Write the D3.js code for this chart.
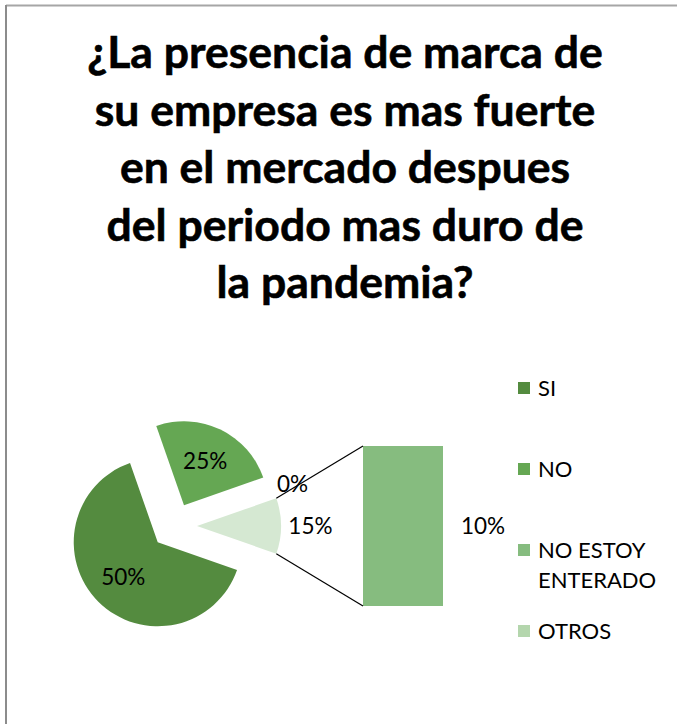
<!DOCTYPE html>
<html>
<head>
<meta charset="utf-8">
<script src="https://cdn.jsdelivr.net/npm/d3@7"></script>
<style>
  body { margin: 0; background: #fff; }
  text { font-family: Lato, "Open Sans", sans-serif; }
</style>
</head>
<body>
<div id="chart"></div>
<script>
// title lines
var titleLines = ["¿La presencia de marca de", "su empresa es mas fuerte", "en el mercado despues", "del periodo mas duro de", "la pandemia?"];

// legend
var categories = ["SI", "NO", "NO ESTOY ENTERADO", "OTROS"];
var legendColors = ["#548b3f", "#65a753", "#86bc7f", "#b4d6ad"];

// pie slices, clockwise starting from the NO slice (shares)
var pieShares = [25, 0, 10.7, 64.3];
var pieLabels = ["25%", "0%", "15%", "50%"];
var pieColors = ["#65a753", "#ffffff", "#d5e8d2", "#548b3f"];
var otherIndex = 2; // slice linked to the bar

// bar of the "other" part
var barValues = [10];
var barLabels = ["10%"];
var barColors = ["#86bc7f"];

var W = 677, H = 724;
var svg = d3.select("#chart").append("svg")
  .attr("width", W).attr("height", H);

// frame
svg.append("line").attr("x1", 6).attr("y1", 5.5).attr("x2", W).attr("y2", 5.5)
  .style("stroke", "#a6a6a6").style("stroke-width", 2);
svg.append("line").attr("x1", 6).attr("y1", 5).attr("x2", 6).attr("y2", H)
  .style("stroke", "#8c8c8c").style("stroke-width", 2);

// title
svg.append("g").selectAll("text")
  .data(titleLines)
  .enter().append("text")
  .attr("x", 345)
  .attr("y", function(d, i) { return 68 + i * 57.5; })
  .attr("text-anchor", "middle")
  .style("font-weight", "bold")
  .style("font-size", "44.5px")
  .style("fill", "#000")
  .style("stroke", "#000")
  .style("stroke-width", 0.6)
  .text(function(d) { return d; });

// pie
var cx = 174, cy = 526, r = 84, explode = 23;
var total = d3.sum(pieShares);
var otherStart = d3.sum(pieShares.slice(0, otherIndex)) / total * 2 * Math.PI;
var otherSpan = pieShares[otherIndex] / total * 2 * Math.PI;
var start = Math.PI / 2 - otherStart - otherSpan / 2;

var pie = d3.pie().sort(null).value(function(d) { return d; })
  .startAngle(start).endAngle(start + 2 * Math.PI);
var arcs = pie(pieShares);
var arc = d3.arc().innerRadius(0).outerRadius(r);

function mid(a) { return (a.startAngle + a.endAngle) / 2; }
function off(a, dist) {
  var m = mid(a);
  return [Math.sin(m) * dist, -Math.cos(m) * dist];
}

var gPie = svg.append("g").attr("transform", "translate(" + cx + "," + cy + ")");
gPie.selectAll("path")
  .data(arcs)
  .enter().append("path")
  .attr("transform", function(d) { var o = off(d, explode); return "translate(" + o[0] + "," + o[1] + ")"; })
  .attr("d", arc)
  .style("fill", function(d, i) { return pieColors[i]; })
  .style("stroke", "none");

gPie.selectAll("text")
  .data(arcs)
  .enter().append("text")
  .attr("transform", function(d) {
    var o = off(d, explode);
    var span = d.endAngle - d.startAngle;
    var dist = span === 0 ? r * 1.22 : (span < 0.8 ? r * 1.35 : r * 0.58);
    var l = off(d, dist);
    return "translate(" + (o[0] + l[0]) + "," + (o[1] + l[1]) + ")";
  })
  .attr("text-anchor", "middle")
  .attr("dy", "0.35em")
  .style("font-size", "22.5px")
  .style("fill", "#000")
  .text(function(d, i) { return pieLabels[i]; });

// bar
var barX = 363, barW = 80, barTop = 446, barBottom = 606;
var yBar = d3.scaleLinear().domain([0, d3.sum(barValues)]).range([barBottom, barTop]);
var stack = [];
var acc = 0;
barValues.forEach(function(v) { stack.push([acc, acc + v]); acc += v; });

svg.append("g").selectAll("rect")
  .data(stack)
  .enter().append("rect")
  .attr("x", barX)
  .attr("y", function(d) { return yBar(d[1]); })
  .attr("width", barW)
  .attr("height", function(d) { return yBar(d[0]) - yBar(d[1]); })
  .style("fill", function(d, i) { return barColors[i]; });

svg.append("g").selectAll("text")
  .data(stack)
  .enter().append("text")
  .attr("x", barX + barW + 40)
  .attr("y", function(d) { return yBar((d[0] + d[1]) / 2); })
  .attr("dy", "0.35em")
  .attr("text-anchor", "middle")
  .style("font-size", "22.5px")
  .text(function(d, i) { return barLabels[i]; });

// connector lines from the other slice to the bar
var oa = arcs[otherIndex];
var oo = off(oa, explode);
var pTop = [cx + oo[0] + Math.sin(oa.startAngle) * r, cy + oo[1] - Math.cos(oa.startAngle) * r];
var pBot = [cx + oo[0] + Math.sin(oa.endAngle) * r, cy + oo[1] - Math.cos(oa.endAngle) * r];
svg.append("line").attr("x1", pTop[0]).attr("y1", pTop[1]).attr("x2", barX).attr("y2", barTop)
  .style("stroke", "#000").style("stroke-width", 1.2);
svg.append("line").attr("x1", pBot[0]).attr("y1", pBot[1]).attr("x2", barX).attr("y2", barBottom)
  .style("stroke", "#000").style("stroke-width", 1.2);

// legend
var legendY = [388, 469, 550, 631];
var legend = svg.append("g").selectAll("g")
  .data(categories)
  .enter().append("g")
  .attr("transform", function(d, i) { return "translate(518," + legendY[i] + ")"; });
legend.append("rect")
  .attr("x", 0).attr("y", -6).attr("width", 12).attr("height", 12)
  .style("fill", function(d, i) { return legendColors[i]; });
legend.append("text")
  .attr("x", 20)
  .attr("dy", "0.35em")
  .style("font-size", "22px")
  .each(function(d) {
    var parts = d === "NO ESTOY ENTERADO" ? ["NO ESTOY", "ENTERADO"] : [d];
    var t = d3.select(this);
    parts.forEach(function(p, k) {
      t.append("tspan").attr("x", 20).attr("dy", k === 0 ? "0.35em" : "30px").text(p);
    });
  });
</script>
</body>
</html>
